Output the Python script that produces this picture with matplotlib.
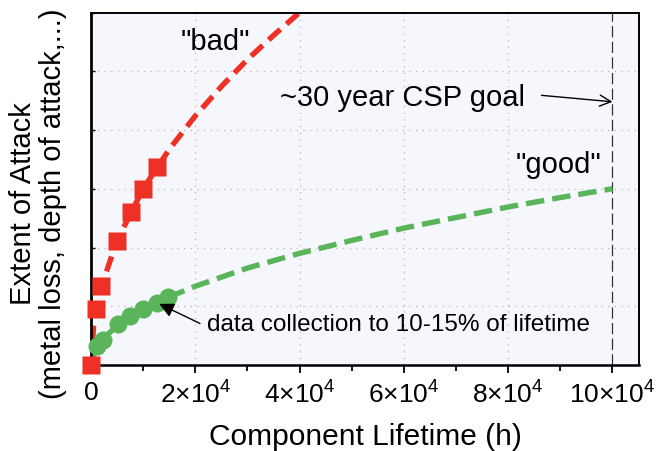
import matplotlib
matplotlib.use("Agg")
import matplotlib.pyplot as plt
from matplotlib.ticker import FixedLocator, MultipleLocator

plt.rcParams['font.family'] = ['Liberation Sans', 'DejaVu Sans']
plt.rcParams['mathtext.fontset'] = 'custom'
plt.rcParams['mathtext.rm'] = 'Liberation Sans'
plt.rcParams['mathtext.default'] = 'regular'

# ---- data ----
bad_x = [0, 1000, 2000, 5000, 7600, 10000, 12600]
bad_y = [0.0, 0.96, 1.35, 2.11, 2.60, 3.00, 3.37]

good_x = [1200, 2300, 5200, 7500, 10000, 12600, 14800]
good_y = [0.33, 0.42, 0.70, 0.83, 0.95, 1.05, 1.16]

bad_fit_x = [0, 500, 1000, 2000, 5000, 10000, 15000, 20000, 25000, 30000, 35000, 40000, 42500]
bad_fit_y = [0, 0.67, 0.95, 1.34, 2.12, 3.00, 3.67, 4.24, 4.74, 5.20, 5.61, 6.00, 6.18]

good_fit_x = [0, 1000, 2000, 5000, 10000, 15000, 20000, 30000, 40000, 50000,
              60000, 70000, 80000, 90000, 100000]
good_fit_y = [0, 0.30, 0.42, 0.67, 0.95, 1.16, 1.34, 1.65, 1.90, 2.12,
              2.33, 2.51, 2.69, 2.85, 3.00]

goal_x = 100000

xtick_values = [0, 20000, 40000, 60000, 80000, 100000]
xtick_labels = ['0', '2×10$^{4}$', '4×10$^{4}$', '6×10$^{4}$', '8×10$^{4}$', '10×10$^{4}$']

RED = '#ee3124'
GREEN = '#5ab55a'

fig = plt.figure(figsize=(6.56, 4.51), dpi=100)
ax = fig.add_axes([91/656, 1-365/451, (639-91)/656, (365-12.5)/451])
ax.set_facecolor('#f6f7fd')

ax.set_xlim(0, 105100)
ax.set_ylim(0, 6)

# grid
for gx in xtick_values[1:-1]:
    ax.axvline(gx, color='#a8a8a8', lw=0.9, ls=(0, (0.8, 4.5)), zorder=0.5)
for gy in [1, 2, 3, 4, 5]:
    ax.axhline(gy, color='#a8a8a8', lw=0.9, ls=(0, (0.8, 4.5)), zorder=0.5)

# goal line
ax.axvline(goal_x, color='#333333', lw=0.9, ls=(0, (9, 3.5)), zorder=1)

# fits
ax.plot(bad_fit_x, bad_fit_y, color=RED, lw=3.9, dashes=(2.9, 1.5), zorder=2,
        dash_capstyle='butt')
ax.plot(good_fit_x, good_fit_y, color=GREEN, lw=3.9, dashes=(3.4, 1.5), zorder=2,
        dash_capstyle='butt')

# markers
ax.plot(bad_x, bad_y, ls='none', marker='s', ms=12.5, color=RED, mec='none',
        zorder=3, clip_on=False)
ax.plot(good_x, good_y, ls='none', marker='o', ms=13, color=GREEN, mec='none',
        zorder=4, clip_on=False)

# texts
ax.text(23800, 5.50, '"bad"', fontsize=21, ha='center', va='center')
ax.text(89600, 3.40, '"good"', fontsize=21, ha='center', va='center')
ax.text(36200, 4.54, '~30 year CSP goal', fontsize=21, ha='left', va='center')
ax.annotate('', xy=(100000, 4.48), xytext=(86400, 4.59),
            arrowprops=dict(arrowstyle='->', color='black', lw=1.0,
                            mutation_scale=20, shrinkA=0, shrinkB=0))
ax.text(22200, 0.673, 'data collection to 10-15% of lifetime', fontsize=17.5,
        ha='left', va='center')
ax.annotate('', xy=(13100, 1.04), xytext=(20900, 0.707),
            arrowprops=dict(arrowstyle='-|>', color='black', lw=1.0,
                            mutation_scale=22, shrinkA=0, shrinkB=0), zorder=5)

# ticks
ax.xaxis.set_major_locator(FixedLocator(xtick_values))
ax.set_xticklabels(xtick_labels)
ax.xaxis.set_minor_locator(MultipleLocator(10000))
ax.tick_params(axis='x', which='major', direction='out', length=5.5, width=1.3,
               labelsize=19, pad=6)
ax.tick_params(axis='x', which='minor', direction='out', length=4, width=1.3)
ax.yaxis.set_major_locator(MultipleLocator(1))
ax.tick_params(axis='y', which='major', direction='in', length=3, width=1.0,
               labelleft=False)

for s in ax.spines.values():
    s.set_linewidth(1.4)
ax.spines['left'].set_linewidth(2.0)
ax.spines['bottom'].set_linewidth(1.8)

ax.set_xlabel('Component Lifetime (h)', fontsize=21.5, labelpad=11)
fig.text(38/656, 1-204/451, 'Extent of Attack\n(metal loss, depth of attack,...)',
         rotation=90, ha='center', va='center', multialignment='center',
         fontsize=21, linespacing=1.12)

fig.savefig('out.png', dpi=100)
